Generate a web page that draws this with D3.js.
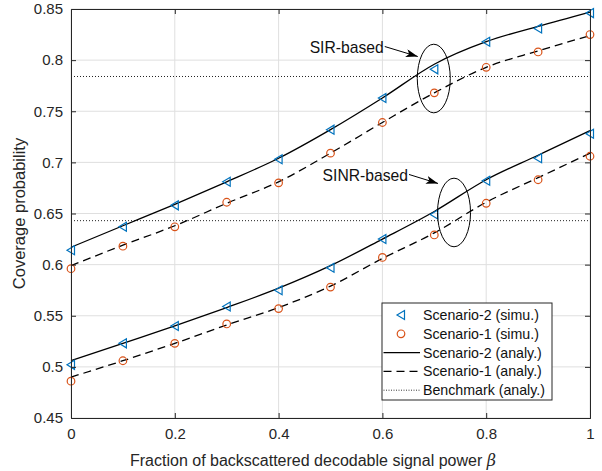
<!DOCTYPE html>
<html>
<head>
<meta charset="utf-8">
<script src="https://cdn.jsdelivr.net/npm/d3@7"></script>
<style>
  html, body { margin: 0; padding: 0; background: #fff; }
  svg { display: block; font-family: "Liberation Sans", Arial, sans-serif; }
</style>
</head>
<body>
<svg id="chart" width="602" height="471"></svg>
<script>
// Fraction of backscattered decodable signal power (x axis)
const beta = [0, 0.1, 0.2, 0.3, 0.4, 0.5, 0.6, 0.7, 0.8, 0.9, 1.0];

// Simulated coverage probability (markers)
const sirSimS2  = [0.614, 0.637, 0.658, 0.681, 0.703, 0.732, 0.763, 0.791, 0.818, 0.831, 0.846];
const sirSimS1  = [0.596, 0.618, 0.637, 0.661, 0.680, 0.709, 0.739, 0.768, 0.793, 0.808, 0.825];
const sinrSimS2 = [0.502, 0.523, 0.540, 0.559, 0.575, 0.597, 0.625, 0.649, 0.682, 0.704, 0.728];
const sinrSimS1 = [0.486, 0.506, 0.523, 0.542, 0.557, 0.578, 0.607, 0.629, 0.660, 0.683, 0.706];

// Analytical coverage probability (lines)
const sirAnaS2  = [0.617, 0.638, 0.659, 0.681, 0.704, 0.732, 0.763, 0.796, 0.818, 0.833, 0.847];
const sirAnaS1  = [0.599, 0.619, 0.638, 0.660, 0.681, 0.709, 0.739, 0.768, 0.793, 0.809, 0.824];
const sinrAnaS2 = [0.506, 0.523, 0.540, 0.558, 0.577, 0.599, 0.625, 0.652, 0.683, 0.707, 0.731];
const sinrAnaS1 = [0.490, 0.506, 0.523, 0.541, 0.558, 0.579, 0.606, 0.631, 0.661, 0.685, 0.709];

// Benchmark levels (SIR-based, SINR-based)
const benchmark = [0.784, 0.643];

// Axis ticks
const xTicks = [0, 0.2, 0.4, 0.6, 0.8, 1];
const yTicks = [0.45, 0.5, 0.55, 0.6, 0.65, 0.7, 0.75, 0.8, 0.85];

// Legend entries
const legendLabels = ["Scenario-2 (simu.)", "Scenario-1 (simu.)", "Scenario-2 (analy.)", "Scenario-1 (analy.)", "Benchmark (analy.)"];

// Annotation groups: label, ellipse centre in data units
const groups = [
  { label: "SIR-based",  cx: 0.699, cy: 0.782 },
  { label: "SINR-based", cx: 0.738, cy: 0.651 }
];

const svg = d3.select("#chart");
const m = { left: 71, right: 590, top: 9, bottom: 418 };
const x = d3.scaleLinear().domain([0, 1]).range([m.left, m.right]);
const y = d3.scaleLinear().domain([0.45, 0.85]).range([m.bottom, m.top]);

const axisColor = "#262626";
const blue = "#0072BD", orange = "#D95319";

// Grid
const grid = svg.append("g");
grid.selectAll(".gx").data(xTicks).join("line")
  .attr("x1", d => x(d)).attr("x2", d => x(d))
  .attr("y1", m.top).attr("y2", m.bottom)
  .attr("stroke", "#dfdfdf").attr("stroke-width", 1);
grid.selectAll(".gy").data(yTicks).join("line")
  .attr("x1", m.left).attr("x2", m.right)
  .attr("y1", d => y(d)).attr("y2", d => y(d))
  .attr("stroke", "#dfdfdf").attr("stroke-width", 1);

// Benchmark dotted lines
svg.append("g").selectAll("line").data(benchmark).join("line")
  .attr("x1", m.left).attr("x2", m.right)
  .attr("y1", d => y(d)).attr("y2", d => y(d))
  .attr("stroke", "#222").attr("stroke-width", 1)
  .attr("stroke-dasharray", "1,2");

// Analytical lines
const line = d3.line().x((d, i) => x(beta[i])).y(d => y(d)).curve(d3.curveMonotoneX);
const lines = svg.append("g").attr("fill", "none").attr("stroke", "#000").attr("stroke-width", 1.3);
[sirAnaS2, sinrAnaS2].forEach(s => lines.append("path").attr("d", line(s)));
[sirAnaS1, sinrAnaS1].forEach(s => lines.append("path").attr("d", line(s)).attr("stroke-dasharray", "8,5"));

// Markers
const tri = (cx, cy) => `M${cx - 4},${cy}L${cx + 3.5},${cy - 4.5}L${cx + 3.5},${cy + 4.5}Z`;
const mk = svg.append("g");
[sirSimS2, sinrSimS2].forEach(s => {
  mk.append("g").selectAll("path").data(s).join("path")
    .attr("d", (d, i) => tri(x(beta[i]), y(d)))
    .attr("fill", "none").attr("stroke", blue).attr("stroke-width", 1.2);
});
[sirSimS1, sinrSimS1].forEach(s => {
  mk.append("g").selectAll("circle").data(s).join("circle")
    .attr("cx", (d, i) => x(beta[i])).attr("cy", d => y(d)).attr("r", 3.8)
    .attr("fill", "none").attr("stroke", orange).attr("stroke-width", 1.2);
});

// Axes (box with inward ticks on all sides)
const ax = svg.append("g");
const xAxisB = d3.axisBottom(x).tickValues(xTicks).tickSize(-5).tickPadding(10).tickFormat(d3.format("~g"));
const yAxisL = d3.axisLeft(y).tickValues(yTicks).tickSize(-5).tickPadding(8).tickFormat(d3.format("~g"));
const gxB = ax.append("g").attr("transform", `translate(0,${m.bottom})`).call(xAxisB);
const gyL = ax.append("g").attr("transform", `translate(${m.left},0)`).call(yAxisL);
const gxT = ax.append("g").attr("transform", `translate(0,${m.top})`).call(d3.axisTop(x).tickValues(xTicks).tickSize(-5).tickFormat(""));
const gyR = ax.append("g").attr("transform", `translate(${m.right},0)`).call(d3.axisRight(y).tickValues(yTicks).tickSize(-5).tickFormat(""));
[gxB, gyL, gxT, gyR].forEach(g => {
  g.select(".domain").attr("stroke", axisColor).attr("stroke-width", 1);
  g.selectAll(".tick line").attr("stroke", axisColor);
  g.selectAll("text").attr("fill", axisColor)
    .style("font-family", "'Liberation Sans', Arial, sans-serif").style("font-size", "15px");
});
// remove ticks at the very ends so the frame stays clean
[gxB, gxT].forEach(g => g.selectAll(".tick line").filter(d => d === 0 || d === 1).remove());
[gyL, gyR].forEach(g => g.selectAll(".tick line").filter(d => d === 0.45 || d === 0.85).remove());

// Axis labels
const xl = svg.append("text")
  .attr("x", 130).attr("y", 466)
  .attr("text-anchor", "start").attr("fill", axisColor).style("font-size", "16px");
xl.append("tspan").text("Fraction of backscattered decodable signal power ");
xl.append("tspan").text("β").style("font-family", "'DejaVu Serif', 'Liberation Serif', serif").style("font-style", "italic");

svg.append("text")
  .attr("transform", `translate(25,${(m.top + m.bottom) / 2}) rotate(-90)`)
  .attr("text-anchor", "middle").attr("fill", axisColor).style("font-size", "16.5px")
  .text("Coverage probability");

// Annotations: ellipse, label and arrow
svg.append("defs").append("marker")
  .attr("id", "arrowhead").attr("viewBox", "0 0 12 8").attr("refX", 12).attr("refY", 4)
  .attr("markerWidth", 12).attr("markerHeight", 8).attr("markerUnits", "userSpaceOnUse")
  .attr("orient", "auto")
  .append("path").attr("d", "M0,0L12,4L0,8L3,4Z").attr("fill", "#000");

const ann = svg.append("g");
groups.forEach((g, k) => {
  const cx = x(g.cx), cy = y(g.cy);
  ann.append("ellipse").attr("cx", cx).attr("cy", cy).attr("rx", 16.5).attr("ry", 34.3)
    .attr("fill", "none").attr("stroke", "#000").attr("stroke-width", 1);
  const tx = k === 0 ? cx - 50 : cx - 46;
  const ty = k === 0 ? cy - 25.5 : cy - 31.5;
  ann.append("text").attr("x", tx).attr("y", ty).attr("text-anchor", "end")
    .attr("fill", "#111").style("font-size", "15.7px").text(g.label);
  ann.append("line")
    .attr("x1", tx + 1).attr("y1", ty - 6.5)
    .attr("x2", cx - 16).attr("y2", k === 0 ? cy - 22 : cy - 29)
    .attr("stroke", "#000").attr("stroke-width", 1).attr("marker-end", "url(#arrowhead)");
});

// Legend
const lg = svg.append("g").attr("transform", "translate(382,303)");
lg.append("rect").attr("width", 170).attr("height", 97)
  .attr("fill", "#fff").attr("stroke", axisColor).attr("stroke-width", 1);
legendLabels.forEach((t, i) => {
  const ry = 12 + i * 18.8;
  const row = lg.append("g").attr("transform", `translate(0,${ry})`);
  if (i === 0) row.append("path").attr("d", tri(19, 0)).attr("fill", "none").attr("stroke", blue).attr("stroke-width", 1.2);
  if (i === 1) row.append("circle").attr("cx", 19).attr("cy", 0).attr("r", 3.8).attr("fill", "none").attr("stroke", orange).attr("stroke-width", 1.2);
  if (i >= 2) row.append("line").attr("x1", 1.5).attr("x2", 38).attr("y1", 0).attr("y2", 0)
    .attr("stroke", "#000").attr("stroke-width", i === 4 ? 0.8 : 1.3)
    .attr("stroke-dasharray", i === 3 ? "8,5" : i === 4 ? "1,1.5" : null);
  row.append("text").attr("x", 41).attr("y", 5).attr("fill", "#111").style("font-size", "14.2px").text(t);
});
</script>
</body>
</html>
